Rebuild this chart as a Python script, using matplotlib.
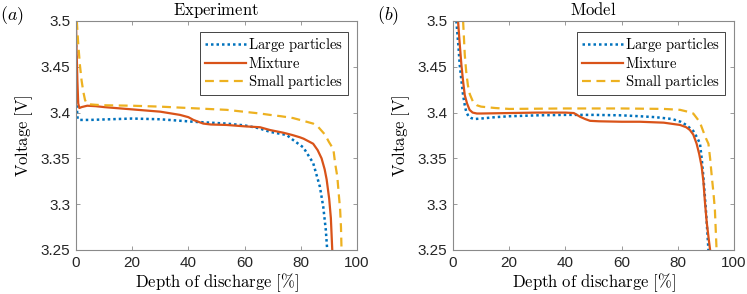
import matplotlib
matplotlib.use("Agg")
import matplotlib.pyplot as plt

plt.rcParams['mathtext.fontset'] = 'cm'
plt.rcParams['font.family'] = ['Liberation Sans', 'DejaVu Sans']

# Experiment - large particles
exp_large_x = [0, 0.15, 0.3, 0.6, 1.5, 5, 10, 20, 30, 41.8, 53.6, 60, 65, 69, 75, 77.3, 80.9, 84.4, 86.8, 88, 88.9, 89.4]
exp_large_y = [3.474, 3.44, 3.405, 3.393, 3.392, 3.392, 3.3925, 3.3935, 3.3927, 3.39, 3.388, 3.386, 3.383, 3.379, 3.3755, 3.37, 3.362, 3.345, 3.319, 3.297, 3.272, 3.25]

# Experiment - mixture
exp_mix_x = [0, 0.2, 0.5, 0.8, 1.2, 2, 4, 7, 10, 20, 30, 37, 40, 41.8, 43.5, 45.3, 48, 53.6, 60, 65.5, 69, 73.8, 77, 79.7, 81, 84.4, 86, 87.4, 88.5, 89.2, 90.1, 90.7, 91.2]
exp_mix_y = [3.5, 3.47, 3.435, 3.41, 3.405, 3.406, 3.4075, 3.407, 3.406, 3.4035, 3.401, 3.3975, 3.395, 3.392, 3.39, 3.388, 3.387, 3.3865, 3.385, 3.384, 3.381, 3.378, 3.3755, 3.373, 3.3715, 3.366, 3.359, 3.35, 3.338, 3.327, 3.306, 3.285, 3.25]

# Experiment - small particles
exp_small_x = [0.3, 0.8, 1.4, 2.0, 2.6, 3.2, 3.8, 5, 7, 10, 20, 30, 40, 53.6, 65.5, 69, 73, 77.3, 80.9, 84.4, 86, 88.6, 90, 91.6, 92.2, 93, 93.4, 94, 94.3, 94.5]
exp_small_y = [3.5, 3.475, 3.452, 3.435, 3.423, 3.414, 3.41, 3.409, 3.4085, 3.408, 3.4075, 3.4065, 3.405, 3.403, 3.399, 3.3975, 3.396, 3.394, 3.391, 3.388, 3.385, 3.376, 3.368, 3.36, 3.345, 3.33, 3.315, 3.294, 3.275, 3.25]

# Model - large particles
mod_large_x = [1.2, 2.0, 2.4, 3.0, 3.6, 4.2, 4.7, 5.5, 6.5, 7.7, 10, 15, 20, 30, 40, 50, 60, 66.5, 72, 78, 81, 83, 85.5, 87, 87.9, 88.5, 89.1, 89.6, 90, 90.5, 90.9]
mod_large_y = [3.5, 3.47, 3.452, 3.435, 3.419, 3.408, 3.401, 3.396, 3.394, 3.393, 3.3935, 3.395, 3.396, 3.397, 3.3975, 3.3975, 3.397, 3.396, 3.395, 3.393, 3.39, 3.3865, 3.38, 3.372, 3.366, 3.35, 3.33, 3.31, 3.294, 3.27, 3.25]

# Model - mixture
mod_mix_x = [1.8, 2.4, 3.0, 3.6, 4.2, 5.0, 5.9, 7, 8.5, 10, 20, 30, 40, 43, 45.2, 47, 48.8, 52, 60, 66.5, 75, 80.8, 83, 84.3, 85.5, 86.7, 87.6, 88.5, 89.1, 89.7, 90.3, 91, 91.5]
mod_mix_y = [3.5, 3.475, 3.452, 3.434, 3.419, 3.41, 3.403, 3.4, 3.399, 3.399, 3.3995, 3.4, 3.4, 3.3995, 3.3955, 3.393, 3.391, 3.3905, 3.39, 3.39, 3.389, 3.3865, 3.384, 3.381, 3.376, 3.366, 3.355, 3.341, 3.325, 3.301, 3.28, 3.262, 3.25]

# Model - small particles
mod_small_x = [3.6, 4.2, 4.7, 5.3, 6.0, 7.1, 8.5, 10, 15, 20, 40, 60, 75, 80.8, 83.5, 85.5, 87, 87.9, 89, 90, 90.9, 91.5, 92.1, 92.7, 93.2, 93.8]
mod_small_y = [3.5, 3.463, 3.445, 3.43, 3.42, 3.412, 3.408, 3.4065, 3.405, 3.404, 3.4045, 3.4045, 3.404, 3.403, 3.401, 3.399, 3.393, 3.389, 3.38, 3.372, 3.366, 3.35, 3.33, 3.312, 3.294, 3.25]

xticks = [0, 20, 40, 60, 80, 100]
yticks = [3.25, 3.3, 3.35, 3.4, 3.45, 3.5]
ytick_labels = ["3.25", "3.3", "3.35", "3.4", "3.45", "3.5"]

blue = "#0072BD"
orange = "#D95319"
yellow = "#EDB120"
grey = "#8a8a8a"

fig = plt.figure(figsize=(7.47, 2.94), dpi=100)
ax1 = fig.add_axes([0.1017, 0.1497, 0.3762, 0.7789])
ax2 = fig.add_axes([0.6064, 0.1497, 0.3762, 0.7789])

panels = [
    (ax1, r"$\mathrm{Experiment}$", r"$(a)$", exp_large_x, exp_large_y, exp_mix_x, exp_mix_y, exp_small_x, exp_small_y),
    (ax2, r"$\mathrm{Model}$", r"$(b)$", mod_large_x, mod_large_y, mod_mix_x, mod_mix_y, mod_small_x, mod_small_y),
]

for ax, title, tag, lx, ly, mx, my, sx, sy in panels:
    ax.plot(lx, ly, linestyle=(0, (1, 1.2)), color=blue, lw=1.8, label=r"$\mathrm{Large\ particles}$")
    ax.plot(mx, my, linestyle="-", color=orange, lw=1.6, label=r"$\mathrm{Mixture}$")
    ax.plot(sx, sy, linestyle=(0, (4, 2.5)), color=yellow, lw=1.6, label=r"$\mathrm{Small\ particles}$")
    ax.set_xlim(0, 100)
    ax.set_ylim(3.25, 3.5)
    ax.set_xticks(xticks)
    ax.set_yticks(yticks)
    ax.set_yticklabels(ytick_labels)
    ax.tick_params(direction="in", top=True, right=True, length=3, width=0.6,
                   color=grey, labelcolor="#262626", labelsize=11, pad=4)
    for s in ax.spines.values():
        s.set_color(grey)
        s.set_linewidth(0.8)
    ax.set_title(title, fontsize=12, pad=4)
    ax.set_xlabel(r"$\mathrm{Depth\ of\ discharge\ [\%]}$", fontsize=12, labelpad=1)
    ax.set_ylabel(r"$\mathrm{Voltage\ [V]}$", fontsize=12, labelpad=4)
    ax.text(-0.27, 1.025, tag, transform=ax.transAxes, fontsize=13, va="center", ha="left")
    leg = ax.legend(loc="upper right", fontsize=10.5, handlelength=2.8, handletextpad=0.2,
                    borderpad=0.3, labelspacing=0.12, fancybox=False, framealpha=1,
                    bbox_to_anchor=(0.968, 0.952), borderaxespad=0)
    leg.get_frame().set_edgecolor("#262626")
    leg.get_frame().set_linewidth(0.6)

fig.savefig("out.png", dpi=100)
